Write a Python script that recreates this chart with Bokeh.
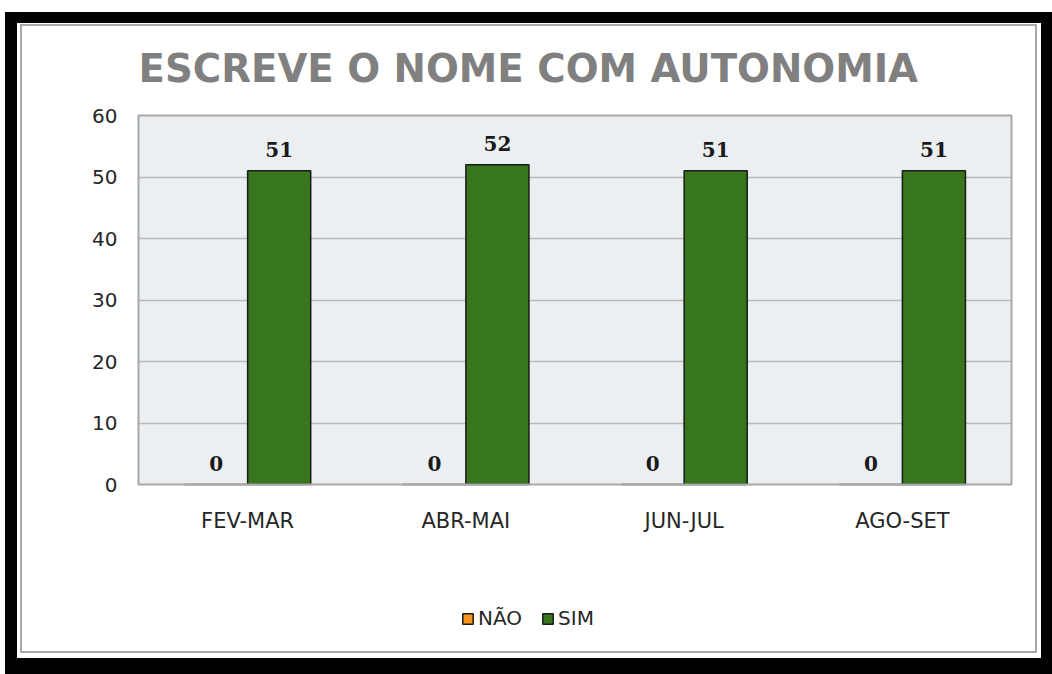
from bokeh.plotting import figure
from bokeh.models import (FactorRange, Range1d, FixedTicker, ColumnDataSource,
                          Legend, LegendItem)
from bokeh.transform import dodge
from bokeh.core.properties import value
from bokeh.embed import file_html
from bokeh.resources import INLINE

title_text = "ESCREVE O NOME COM AUTONOMIA"
categories = ["FEV-MAR", "ABR-MAI", "JUN-JUL", "AGO-SET"]
nao = [0, 0, 0, 0]
sim = [51, 52, 51, 51]
series_names = ["NÃO", "SIM"]
y_ticks = [0, 10, 20, 30, 40, 50, 60]

src = ColumnDataSource(dict(
    cat=categories,
    nao=nao,
    sim=sim,
    nao_lbl=[str(v) for v in nao],
    sim_lbl=[str(v) for v in sim],
))

# layout (pixels): plot area top 115, value 0 at 484, frame extended down to 640
W, H = 1052, 674
TOP, ZERO, BOTTOM = 115, 484, 640
y_max = y_ticks[-1]
y_min = -y_max * (BOTTOM - ZERO) / (ZERO - TOP)

p = figure(width=W, height=H,
           x_range=FactorRange(*categories, range_padding=0),
           y_range=Range1d(y_min, y_max),
           output_backend="svg", toolbar_location=None,
           min_border_left=138, min_border_right=41,
           min_border_top=TOP, min_border_bottom=H - BOTTOM)

# black screenshot frame and thin grey inner line (layout-neutral inset shadows)
p.styles = {
    "background-color": "white",
    "box-shadow": ("inset 5px 12px 0 0 white, inset 17px 23px 0 0 black, "
                   "inset -11px -16px 0 0 black, inset 20px 24px 0 0 white, "
                   "inset -15px -21px 0 0 white, inset 22px 26px 0 0 #a8a8a8, "
                   "inset -17px -23px 0 0 #a8a8a8"),
}

p.title.text = title_text
p.title.align = "left"
p.title.text_font = "DejaVu Sans"
p.title.text_font_style = "bold"
p.title.text_font_size = "38.7px"
p.title.text_color = "#808080"
p.title.standoff = 50

p.background_fill_alpha = 0
p.border_fill_alpha = 0
p.outline_line_color = None

# grey plotting area between 0 and the top tick
p.quad(left=0, right=len(categories), bottom=0, top=y_max,
       fill_color="#ECEFF1", line_color=None, level="image")

p.xgrid.grid_line_color = None
p.ygrid.ticker = FixedTicker(ticks=y_ticks[1:-1])
p.ygrid.grid_line_color = "#b9b9b9"
p.ygrid.grid_line_width = 1.5

for ax in (p.xaxis[0], p.yaxis[0]):
    ax.axis_line_color = None
    ax.major_tick_line_color = None
    ax.minor_tick_line_color = None
    ax.major_tick_out = 0
    ax.minor_tick_out = 0
    ax.major_label_text_font = "DejaVu Sans"
    ax.major_label_text_color = "#262626"
p.yaxis.major_label_text_font_size = "20px"
p.xaxis.major_label_text_font_size = "21px"
p.yaxis.ticker = FixedTicker(ticks=y_ticks)
p.yaxis.major_label_standoff = 21
p.xaxis.fixed_location = 0
p.xaxis.major_label_standoff = 24

w = 0.289
r_nao = p.vbar(x=dodge("cat", -w / 2, range=p.x_range), top="nao", width=w,
               source=src, fill_color="#F7941D", line_color="#1a1a1a", line_width=1.5)
r_sim = p.vbar(x=dodge("cat", w / 2, range=p.x_range), top="sim", width=w,
               source=src, fill_color="#38761D", line_color="#1a1a1a", line_width=1.5)

# outline of the plotting area, drawn over the bar bottoms
p.quad(left=0, right=len(categories), bottom=0, top=y_max,
       fill_alpha=0, line_color="#a8a8a8", line_width=2, level="overlay")

for col, off in (("nao", -w / 2), ("sim", w / 2)):
    p.text(x=dodge("cat", off, range=p.x_range), y=col, text=col + "_lbl", source=src,
           text_align="center", text_baseline="middle", y_offset=-21,
           text_font=value("DejaVu Serif"), text_font_style="bold",
           text_font_size="20px", text_color="#1a1a1a")

legend = Legend(items=[LegendItem(label=series_names[0], renderers=[r_nao]),
                       LegendItem(label=series_names[1], renderers=[r_sim])],
                orientation="horizontal", location=(323, 10),
                glyph_width=13, glyph_height=13, label_standoff=4, spacing=19,
                padding=0, margin=0, label_height=20,
                label_text_font="DejaVu Sans", label_text_font_size="20px",
                label_text_color="#262626",
                border_line_color=None, background_fill_alpha=0)
p.add_layout(legend, "center")

open("out.html", "w").write(file_html(p, INLINE))
